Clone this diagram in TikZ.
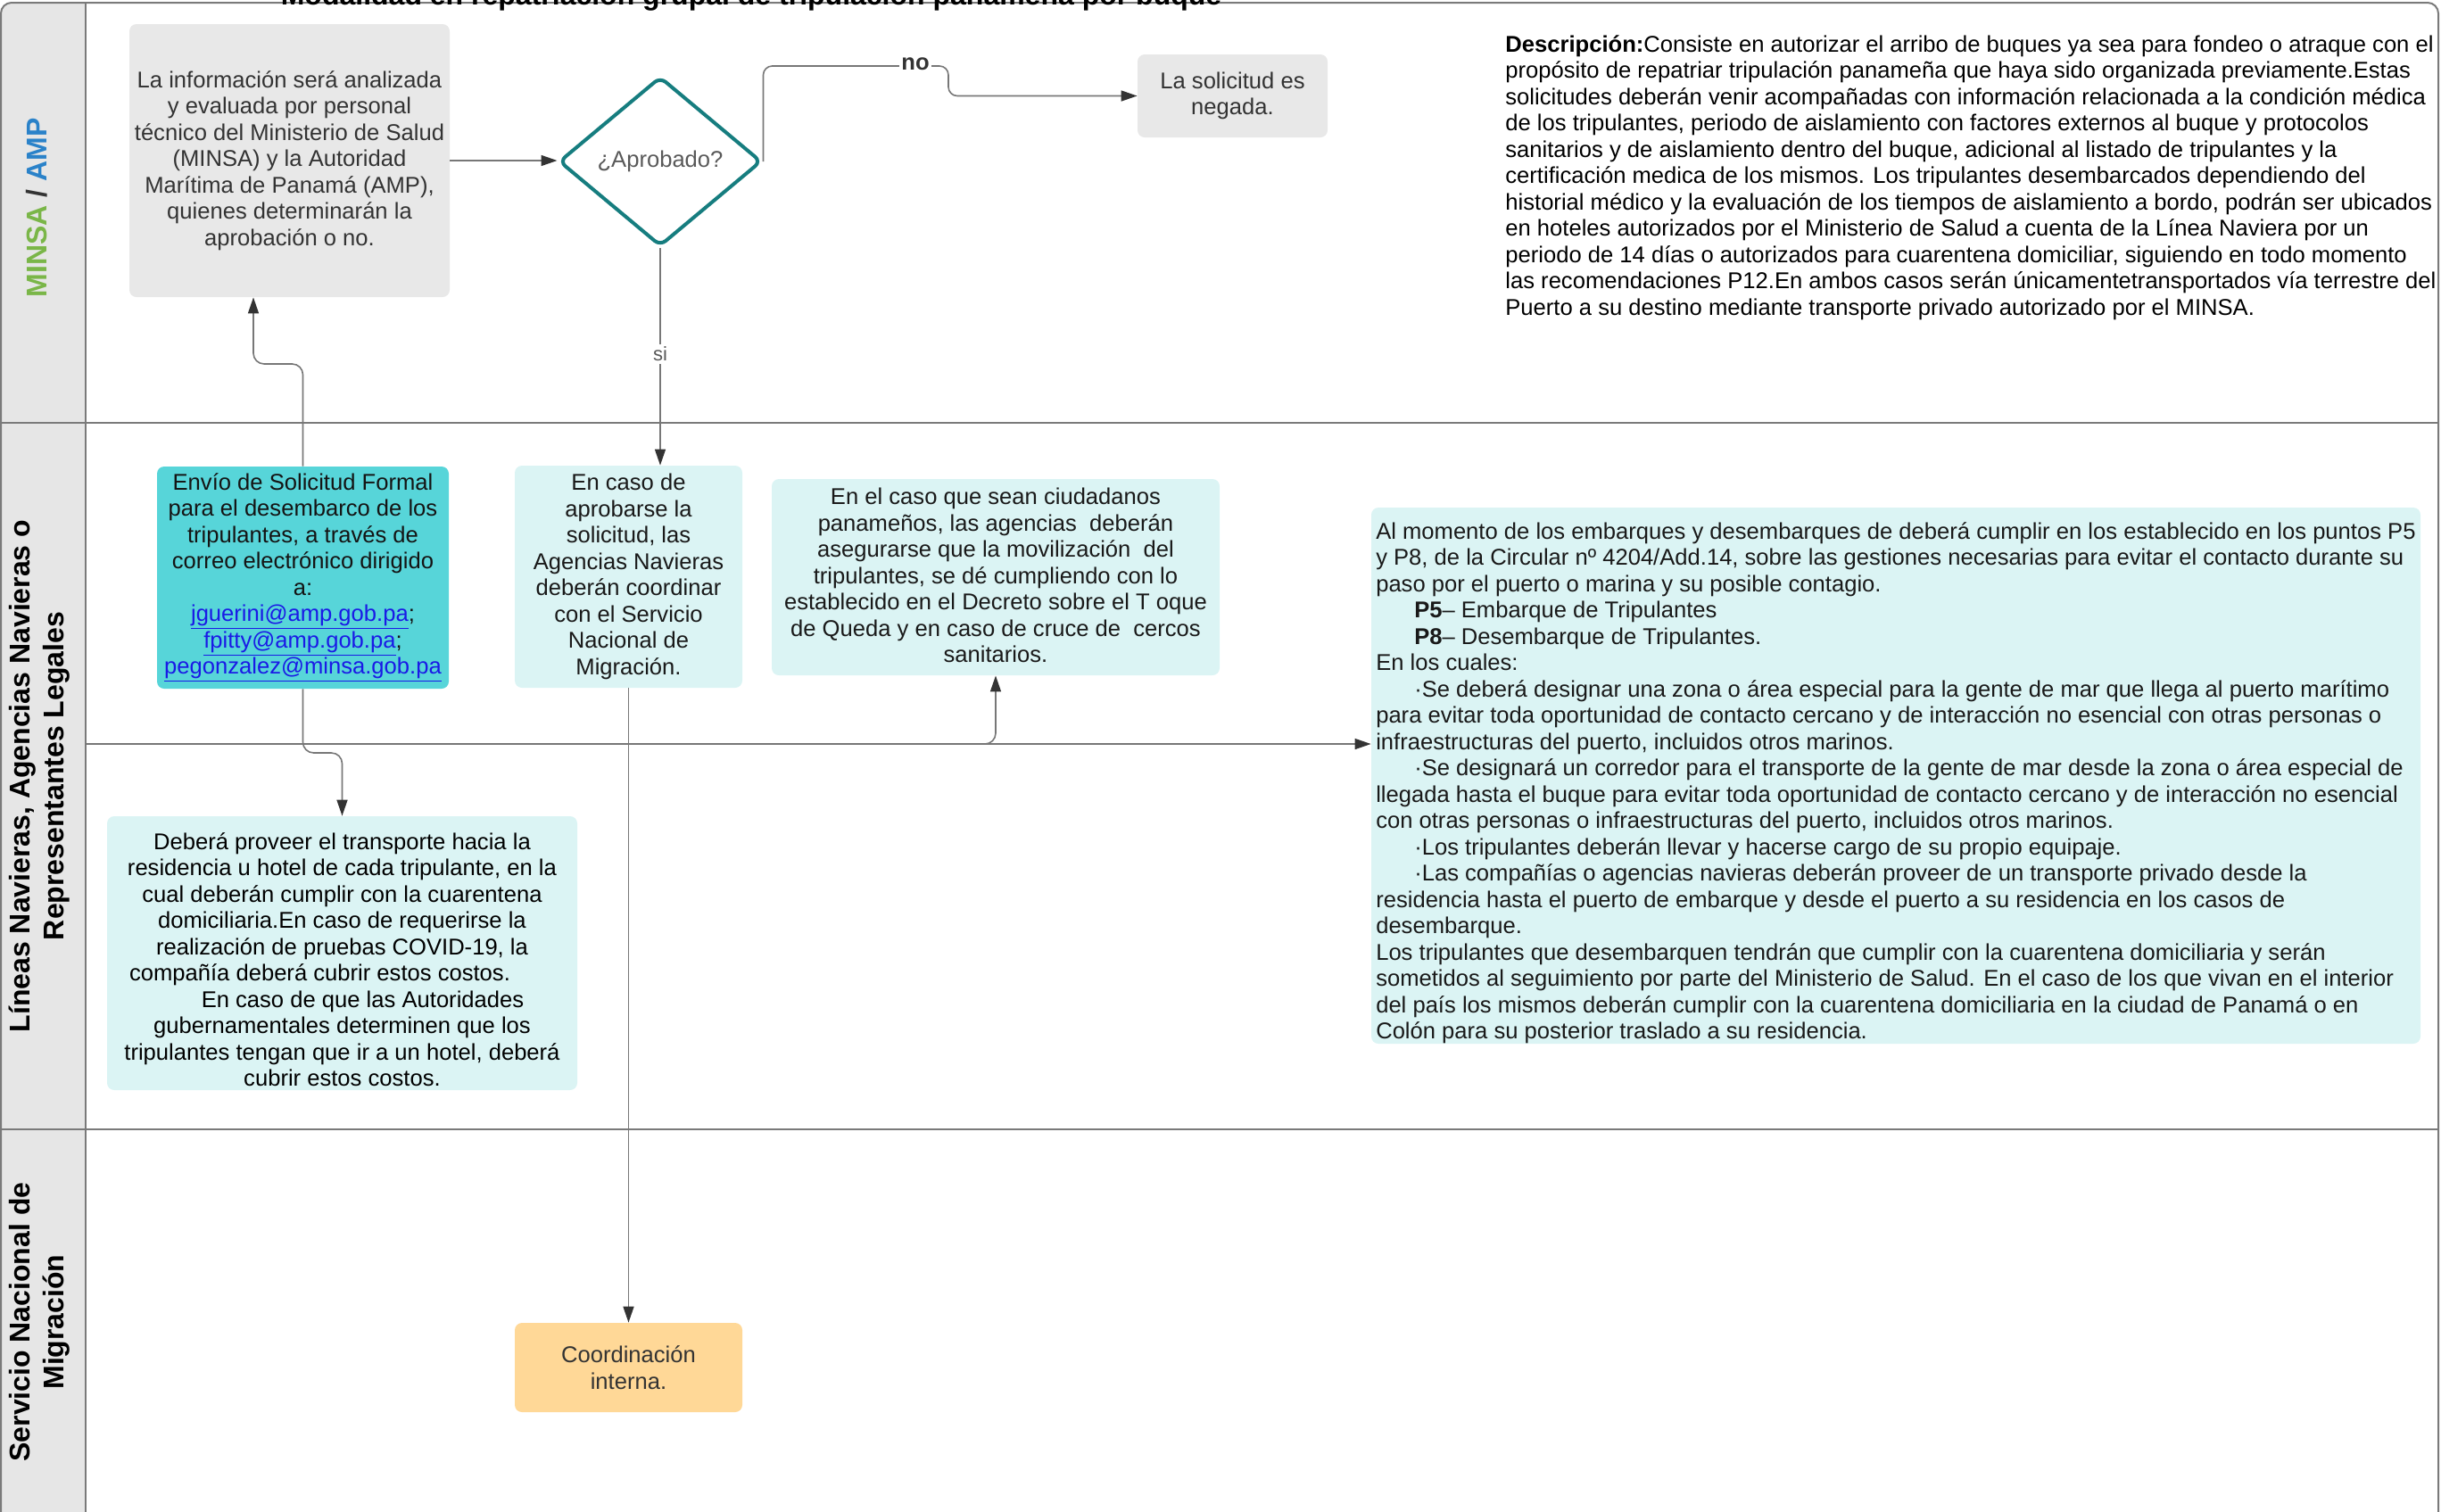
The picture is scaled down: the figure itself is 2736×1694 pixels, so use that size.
\documentclass[tikz,border=0pt]{standalone}
\usepackage{fontspec}
\setmainfont{Liberation Sans}
\usetikzlibrary{arrows.meta,shapes.geometric,calc}
\definecolor{lanegray}{HTML}{E6E6E6}
\definecolor{frameline}{HTML}{7A7A7A}
\definecolor{boxgray}{HTML}{E8E8E8}
\definecolor{tealdia}{HTML}{167D7F}
\definecolor{turq}{HTML}{57D5D9}
\definecolor{lcyan}{HTML}{DBF4F4}
\definecolor{orng}{HTML}{FFD897}
\definecolor{txtd}{HTML}{333333}
\definecolor{connc}{HTML}{777777}
\definecolor{minsagreen}{HTML}{7AB648}
\definecolor{ampblue}{HTML}{2A82C9}
\definecolor{linkblue}{HTML}{1A1AE6}
\newcommand{\mylink}[1]{\textcolor{linkblue}{\underline{#1}}}
\begin{document}
\begin{tikzpicture}[x=0.5pt,y=-0.5pt,
  body/.style={font=\fontsize{12.8pt}{14.75pt}\selectfont},
  box/.style={body, rounded corners=4pt, inner sep=0pt, align=center, text=txtd},
  boxtext/.style={body, inner sep=0pt},
  arr/.style={draw=connc, line width=0.8pt, -{Triangle[length=9pt,width=6pt,color=txtd]}},
  lanelabel/.style={font=\bfseries\fontsize{16pt}{19pt}\selectfont, rotate=90, align=center, inner sep=0pt},
  lanerule/.style={draw=frameline, line width=1pt},
  ]
\useasboundingbox (0,0) rectangle (2736,1694);

% lanes
\fill[lanegray] (1,1760) [rounded corners=6pt] -- (1,3) [sharp corners] -- (96,3) -- (96,1760) -- cycle;
\draw[lanerule, rounded corners=6pt] (1,1760) -- (1,3) -- (2733,3) -- (2733,1760);
\draw[lanerule] (1,473.5) -- (2733,473.5);
\draw[lanerule] (1,1265.5) -- (2733,1265.5);
\draw[lanerule] (96,3) -- (96,1760);

% title (cut off at top, as in the reference)
\node[font=\bfseries\fontsize{16pt}{19pt}\selectfont, anchor=base, inner sep=0pt] (title) at (842,5) {Modalidad en repatriación grupal de tripulación panameña por buque};

% lane labels
\node[lanelabel] (l1) at (41,233) {\textcolor{minsagreen}{MINSA} \textcolor{txtd}{/} \textcolor{ampblue}{AMP}};
\node[lanelabel] (l2) at (44,870) {Líneas Navieras, Agencias Navieras o\\Representantes Legales};
\node[lanelabel] (l3) at (44,1482) {Servicio Nacional de\\Migración};

% lane 1
\node[box, fill=boxgray, minimum width=179.5pt, minimum height=153pt] (info) at (324.5,180)
  {La información será analizada\\y evaluada por personal\\técnico del Ministerio de Salud\\(MINSA) y la Autoridad\\Marítima de Panamá (AMP),\\quienes determinarán la\\aprobación o no.};
\node[diamond, draw=tealdia, line width=2pt, fill=white, rounded corners=4pt, minimum width=113.5pt, minimum height=95pt, inner sep=0pt, body, text=black!65] (dec) at (740,181) {¿Aprobado?};
\node[box, fill=boxgray, minimum width=106.5pt, minimum height=46.5pt] (neg) at (1381.5,107.5) {La solicitud es\\negada.};

\node[body, anchor=north west, align=left, inner sep=0pt, text=black] (desc) at (1687,39)
{\textbf{Descripción:}Consiste en autorizar el arribo de buques ya sea para fondeo o atraque con el\\
propósito de repatriar tripulación panameña que haya sido organizada previamente.Estas\\
solicitudes deberán venir acompañadas con información relacionada a la condición médica\\
de los tripulantes, periodo de aislamiento con factores externos al buque y protocolos\\
sanitarios y de aislamiento dentro del buque, adicional al listado de tripulantes y la\\
certificación medica de los mismos. Los tripulantes desembarcados dependiendo del\\
historial médico y la evaluación de los tiempos de aislamiento a bordo, podrán ser ubicados\\
en hoteles autorizados por el Ministerio de Salud a cuenta de la Línea Naviera por un\\
periodo de 14 días o autorizados para cuarentena domiciliar, siguiendo en todo momento\\
las recomendaciones P12.En ambos casos serán únicamentetransportados vía terrestre del\\
Puerto a su destino mediante transporte privado autorizado por el MINSA.};

% lane 2
\node[box, fill=turq, text=black!92, minimum width=163.5pt, minimum height=124.5pt] (envio) at (339.5,647.5)
  {Envío de Solicitud Formal\\para el desembarco de los\\tripulantes, a través de\\correo electrónico dirigido\\a:\\\mylink{jguerini@amp.gob.pa};\\\mylink{fpitty@amp.gob.pa};\\\mylink{pegonzalez@minsa.gob.pa}};
\node[box, fill=lcyan, text=black!90, minimum width=127.5pt, minimum height=124.5pt] (enc) at (704.5,646.5)
  {En caso de\\aprobarse la\\solicitud, las\\Agencias Navieras\\deberán coordinar\\con el Servicio\\Nacional de\\Migración.};

\node[box, fill=lcyan, minimum width=251pt, minimum height=110pt] (ciud) at (1116,647) {};
\node[boxtext, align=center, text=black!90] (ciudtext) at ([yshift=1pt]ciud.center)
  {En el caso que sean ciudadanos\\panameños, las agencias\ \ deberán\\asegurarse que la movilización\ \ del\\tripulantes, se dé cumpliendo con lo\\establecido en el Decreto sobre el T oque\\de Queda y en caso de cruce de\ \ cercos\\sanitarios.};

\node[box, fill=lcyan, minimum width=263.5pt, minimum height=153.5pt] (transp) at (383.5,1068.5) {};
\node[boxtext, align=center, text=black] (transptext) at ([yshift=-3.5pt]transp.center)
  {Deberá proveer el transporte hacia la\\residencia u hotel de cada tripulante, en la\\cual deberán cumplir con la cuarentena\\domiciliaria.En caso de requerirse la\\realización de pruebas COVID-19, la\\compañía deberá cubrir estos costos.\hspace*{25pt}\mbox{}\\\hspace*{23pt}En caso de que las Autoridades\\gubernamentales determinen que los\\tripulantes tengan que ir a un hotel, deberá\\cubrir estos costos.};

\node[box, fill=lcyan, minimum width=588pt, minimum height=300.5pt] (big) at (2125,869.5) {};
\node[boxtext, align=left, text=black!90] (bigtext) at ([yshift=-4.2pt]big.center)
{Al momento de los embarques y desembarques de deberá cumplir en los establecido en los puntos P5\\
y P8, de la Circular nº 4204/Add.14, sobre las gestiones necesarias para evitar el contacto durante su\\
paso por el puerto o marina y su posible contagio.\\
\hspace*{21.5pt}\textbf{P5}– Embarque de Tripulantes\\
\hspace*{21.5pt}\textbf{P8}– Desembarque de Tripulantes.\\
En los cuales:\\
\hspace*{21.5pt}·Se deberá designar una zona o área especial para la gente de mar que llega al puerto marítimo\\
para evitar toda oportunidad de contacto cercano y de interacción no esencial con otras personas o\\
infraestructuras del puerto, incluidos otros marinos.\\
\hspace*{21.5pt}·Se designará un corredor para el transporte de la gente de mar desde la zona o área especial de\\
llegada hasta el buque para evitar toda oportunidad de contacto cercano y de interacción no esencial\\
con otras personas o infraestructuras del puerto, incluidos otros marinos.\\
\hspace*{21.5pt}·Los tripulantes deberán llevar y hacerse cargo de su propio equipaje.\\
\hspace*{21.5pt}·Las compañías o agencias navieras deberán proveer de un transporte privado desde la\\
residencia hasta el puerto de embarque y desde el puerto a su residencia en los casos de\\
desembarque.\\
Los tripulantes que desembarquen tendrán que cumplir con la cuarentena domiciliaria y serán\\
sometidos al seguimiento por parte del Ministerio de Salud. En el caso de los que vivan en el interior\\
del país los mismos deberán cumplir con la cuarentena domiciliaria en la ciudad de Panamá o en\\
Colón para su posterior traslado a su residencia.};

% lane 3
\node[box, fill=orng, minimum width=127.5pt, minimum height=50pt] (coord) at (704.5,1533) {Coordinación\\interna.};

% connectors
\draw[arr] (info.east) -- (info.east -| dec.west);
\draw[arr, rounded corners=5pt] (dec.east) |- (1063,74) |- (neg.west);
\node[font=\bfseries\fontsize{12.8pt}{14.75pt}\selectfont, fill=white, inner sep=1pt, text=txtd] (nolab) at (1026,72) {no};
\draw[arr] (dec.south) -- (dec.south |- enc.north);
\node[font=\fontsize{11pt}{13pt}\selectfont, fill=white, inner sep=1.5pt, text=black!65] (silab) at (740,397) {si};

\coordinate (j1) at (284,408);
\draw[arr, rounded corners=6pt] (envio.north) |- (j1) -- (j1 |- info.south);
\coordinate (j2) at (339.5,844);
\draw[arr, rounded corners=6pt] (envio.south) -- (j2) -| (transp.north);
\draw[arr] (enc.south) -- (coord.north);

\coordinate (s0) at (96,834);
\draw[arr] (s0) -- (s0 -| big.west);
\draw[arr, rounded corners=6pt] (s0) -| (ciud.south);
\end{tikzpicture}
\end{document}
